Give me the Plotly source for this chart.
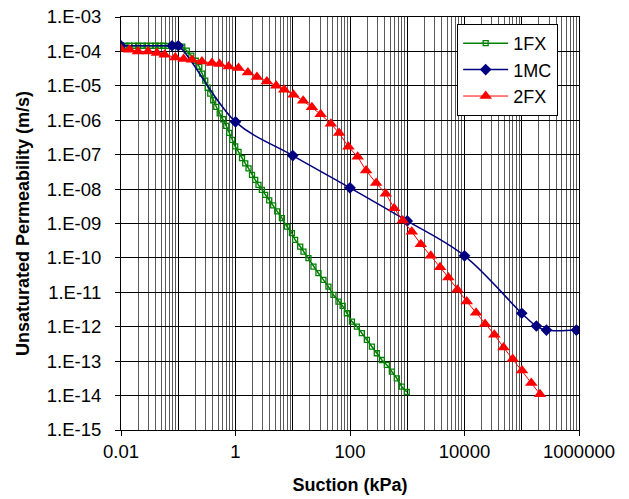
import plotly.graph_objects as go

# ---------------- data ----------------
fx1_suction = [0.01, 0.012, 0.014, 0.017, 0.02, 0.024, 0.028, 0.033, 0.04, 0.047,
               0.055, 0.065, 0.077, 0.09,
               0.1175, 0.141, 0.169, 0.202, 0.233, 0.262, 0.296, 0.327, 0.362, 0.408,
               0.461, 0.530, 0.610, 0.689, 0.777, 0.877, 0.989, 1.13, 1.30, 1.48,
               1.69, 1.94, 2.21, 2.52, 2.89, 3.30, 3.88, 4.55, 5.35, 6.46,
               7.90, 9.66, 11.0, 13.5, 15.4, 18.8, 23.0, 28.1, 34.4, 42.0,
               51.4, 62.9, 74.4, 88.1, 108, 132, 161, 197, 241, 294,
               360, 440, 538, 657, 803, 982]
fx1_perm = [1.46e-4, 1.46e-4, 1.46e-4, 1.46e-4, 1.46e-4, 1.46e-4, 1.46e-4, 1.46e-4, 1.46e-4, 1.46e-4,
            1.46e-4, 1.45e-4, 1.45e-4, 1.44e-4,
            1.37e-4, 1.05e-4, 7.5e-5, 5.36e-5, 3.59e-5, 2.25e-5, 1.41e-5, 8.8e-6, 5.9e-6, 3.81e-6,
            2.46e-6, 1.59e-6, 1.07e-6, 6.9e-7, 4.32e-7, 2.70e-7, 1.75e-7, 1.21e-7, 7.94e-8, 5.61e-8,
            4.01e-8, 2.60e-8, 1.86e-8, 1.33e-8, 9.5e-9, 6.8e-9, 4.71e-9, 3.37e-9, 2.25e-9, 1.43e-9,
            8.1e-10, 5.24e-10, 3.34e-10, 2.14e-10, 1.53e-10, 9.8e-11, 5.6e-11, 3.6e-11, 2.30e-11, 1.47e-11,
            8.4e-12, 5.4e-12, 4.03e-12, 2.47e-12, 1.41e-12, 1.01e-12, 6.5e-13, 4.13e-13, 2.64e-13, 1.70e-13,
            1.08e-13, 7.8e-14, 4.95e-14, 3.18e-14, 1.81e-14, 1.27e-14]

mc1_suction = [0.01, 0.078, 0.1, 1, 10, 100, 1000, 10000, 100000, 180000, 270000, 900000]
mc1_perm = [1.46e-4, 1.46e-4, 1.46e-4, 9.0e-7, 9.4e-8, 1.09e-8, 1.19e-9, 1.15e-10, 2.47e-12,
            1.05e-12, 8.0e-13, 8.0e-13]

fx2_suction = [0.01, 0.0141, 0.0198, 0.0296, 0.0425, 0.0577, 0.0887, 0.124, 0.1735, 0.259,
               0.388, 0.526, 0.756, 1.129, 1.648, 2.366, 3.53, 5.14, 7.09, 10.3,
               15.2, 21.6, 30.7, 46.3, 64.6, 94.0, 136, 191, 286, 422,
               590, 836, 1200, 1725, 2577, 3745, 5230, 7504, 10950, 15910,
               22860, 33200, 48080, 69560, 101100, 146900, 208400]
fx2_perm = [1.17e-4, 1.12e-4, 1.0e-4, 1.0e-4, 8.97e-5, 8.0e-5, 6.7e-5, 6.0e-5, 5.7e-5, 5.1e-5,
            4.6e-5, 4.3e-5, 3.66e-5, 3.29e-5, 2.45e-5, 1.80e-5, 1.34e-5, 1.0e-5, 7.7e-6, 5.5e-6,
            3.68e-6, 2.38e-6, 1.49e-6, 7.9e-7, 4.24e-7, 1.69e-7, 8.7e-8, 3.46e-8, 1.49e-8, 7.3e-9,
            2.79e-9, 1.22e-9, 5.8e-10, 2.51e-10, 1.15e-10, 5.4e-11, 2.68e-11, 1.18e-11, 5.4e-12, 2.57e-12,
            1.21e-12, 5.9e-13, 2.5e-13, 1.16e-13, 5.4e-14, 2.32e-14, 1.10e-14]

x_tick_vals = [0.01, 1, 100, 10000, 1000000]
x_tick_text = ["0.01", "1", "100", "10000", "1000000"]
y_tick_vals = [1e-3, 1e-4, 1e-5, 1e-6, 1e-7, 1e-8, 1e-9, 1e-10, 1e-11, 1e-12, 1e-13, 1e-14, 1e-15]
y_tick_text = ["1.E-03", "1.E-04", "1.E-05", "1.E-06", "1.E-07", "1.E-08", "1.E-09",
               "1.E-10", "1.E-11", "1.E-12", "1.E-13", "1.E-14", "1.E-15"]

FONT = "Arial, Liberation Sans, sans-serif"
TICK_SIZE = 18.5

x_decades = [10.0 ** n for n in range(-2, 7)]
x_minor = [k * 10.0 ** n for n in range(-2, 6) for k in range(2, 10)]

fig = go.Figure()
fig.add_trace(go.Scatter(
    x=fx1_suction, y=fx1_perm, name="1FX", mode="lines+markers",
    line=dict(color="#008000", width=1.5),
    marker=dict(symbol="square-open", size=5, color="#008000", line=dict(width=1.3, color="#008000"))))
fig.add_trace(go.Scatter(
    x=mc1_suction, y=mc1_perm, name="1MC", mode="lines+markers",
    line=dict(color="#000080", width=1.5, shape="spline", smoothing=1.0),
    marker=dict(symbol="diamond", size=9, color="#000080")))
fig.add_trace(go.Scatter(
    x=fx2_suction, y=fx2_perm, name="2FX", mode="lines+markers",
    line=dict(color="#FF0000", width=1),
    marker=dict(symbol="triangle-up", size=11, color="#FF0000")))
# empty trace so that the labelled overlay axis (xaxis2) is drawn
fig.add_trace(go.Scatter(x=[], y=[], xaxis="x2", yaxis="y", mode="none",
                         showlegend=False, hoverinfo="skip"))

fig.update_layout(
    width=629, height=499,
    margin=dict(l=121, r=50, t=17, b=69, autoexpand=False),
    paper_bgcolor="white", plot_bgcolor="white",
    font=dict(family=FONT, color="black", size=TICK_SIZE),
    xaxis=dict(
        type="log", range=[-2, 6], tickmode="array", tickvals=x_decades,
        showticklabels=False, ticks="", automargin=False,
        showgrid=True, gridcolor="black", gridwidth=1,
        minor=dict(tickmode="array", tickvals=x_minor, showgrid=True,
                   gridcolor="#5a5a5a", gridwidth=1, ticks=""),
        showline=True, linecolor="black", linewidth=1, mirror=True,
    ),
    xaxis2=dict(
        type="log", range=[-2, 6], overlaying="x", anchor="y", side="bottom",
        tickmode="array", tickvals=x_tick_vals, ticktext=x_tick_text,
        ticks="outside", ticklen=5, tickcolor="black", showgrid=False,
        ticklabelstandoff=0, automargin=False,
        tickfont=dict(family=FONT, size=TICK_SIZE, color="black"),
        title=dict(text="<b>Suction (kPa)</b>", font=dict(family=FONT, size=18, color="black"), standoff=17),
    ),
    yaxis=dict(
        type="log", range=[-15, -3], tickmode="array", tickvals=y_tick_vals, ticktext=y_tick_text,
        ticks="outside", ticklen=5, tickcolor="black",
        ticklabelstandoff=10, automargin=False,
        showgrid=True, gridcolor="black", gridwidth=1,
        showline=True, linecolor="black", linewidth=1, mirror=True,
        tickfont=dict(family=FONT, size=TICK_SIZE, color="black"),
        title=dict(text="<b>Unsaturated Permeability (m/s)</b>", font=dict(family=FONT, size=18, color="black"), standoff=12),
    ),
    legend=dict(x=0.734, y=0.983, xanchor="left", yanchor="top",
                bgcolor="white", bordercolor="black", borderwidth=1,
                font=dict(family=FONT, size=18, color="black"),
                itemwidth=45),
    showlegend=True,
)

fig.write_html("out.html")
